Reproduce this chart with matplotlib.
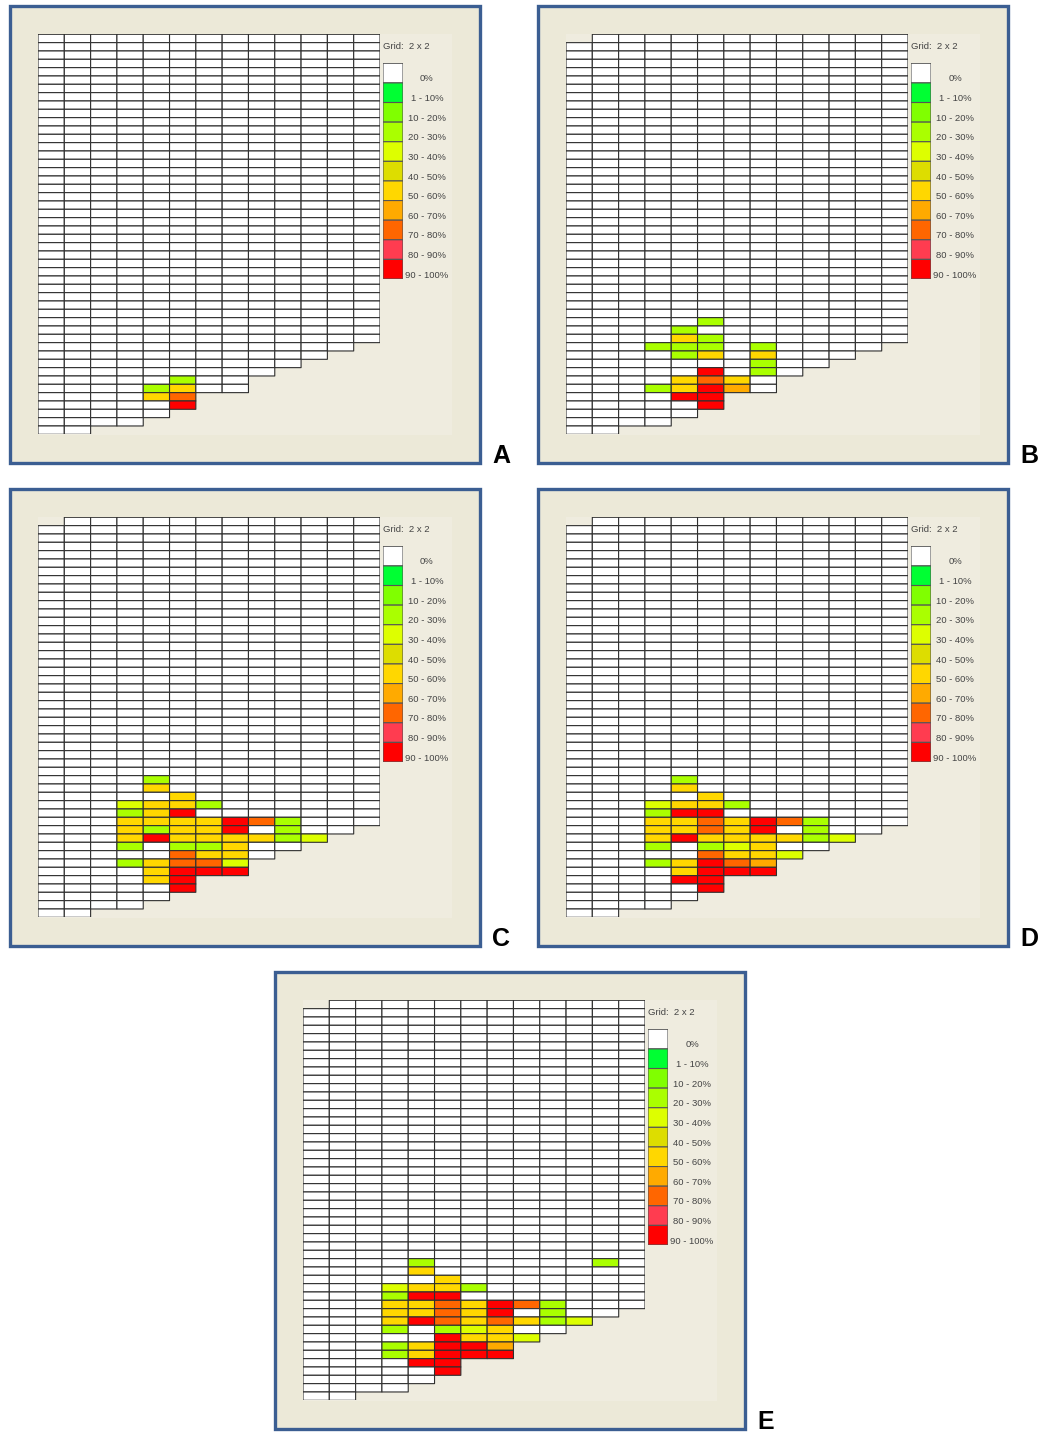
import numpy as np
import matplotlib
matplotlib.use('Agg')
import matplotlib.pyplot as plt
from matplotlib.colors import ListedColormap, BoundaryNorm
from matplotlib.patches import Rectangle

plt.rcParams['font.family'] = ['Liberation Sans', 'DejaVu Sans']

# 图例分档和颜色
bin_labels = ['0%', '1 - 10%', '10 - 20%', '20 - 30%', '30 - 40%', '40 - 50%',
              '50 - 60%', '60 - 70%', '70 - 80%', '80 - 90%', '90 - 100%']
bin_colors = ['#ffffff', '#00ff33', '#80ff00', '#aaff00', '#ddff00', '#dddd00',
              '#ffd700', '#ffaa00', '#ff6600', '#ff3c50', '#ff0000']

# 网格形状: 13 列, 每列最后一行 (从上往下数)
n_rows = 48
n_cols = 13
col_last_row = [47, 47, 46, 46, 45, 44, 42, 42, 40, 39, 38, 37, 36]
# 第 0 列的起始行
first_row_col0 = {'A': 0, 'B': 1, 'C': 1, 'D': 1, 'E': 1}

# 有颜色的格子, 从第 31 行开始; '.'=0%, '1'..'9'=档位, 'X'=90-100%
start_row = 31
cells_A = [
    ".............",
    ".............",
    ".............",
    ".............",
    ".............",
    ".............",
    ".............",
    ".............",
    ".............",
    ".............",
    ".....3.......",
    "....36.......",
    "....68.......",
    ".....X.......",
]
cells_B = [
    ".............",
    ".............",
    ".............",
    ".....3.......",
    "....3........",
    "....63.......",
    "...333.3.....",
    "....36.6.....",
    ".......3.....",
    ".....X.3.....",
    "....686......",
    "...36X7......",
    "....XX.......",
    ".....X.......",
]
cells_C = [
    "....3........",
    "....6........",
    ".....6.......",
    "...4663......",
    "...36X.......",
    "...6666X83...",
    "...6366X.3...",
    "...6X666634..",
    "...3.336.....",
    ".....866.....",
    "...36884.....",
    "....6XXX.....",
    "....6X.......",
    ".....X.......",
]
cells_D = [
    "....3........",
    "....6........",
    ".....6.......",
    "...4663......",
    "...3XX.......",
    "...6686X83...",
    "...6686X.3...",
    "...6X666634..",
    "...3.346.....",
    ".....8664....",
    "...36X87.....",
    "....6XXX.....",
    "....XX.......",
    ".....X.......",
]
cells_E = [
    "....3......3.",
    "....6........",
    ".....6.......",
    "...4663......",
    "...3XX.......",
    "...6686X83...",
    "...6686X.3...",
    "...6X868634..",
    "...3.346.....",
    ".....X664....",
    "...36XX7.....",
    "...36XXX.....",
    "....XX.......",
    ".....X.......",
]
panel_cells = {'A': cells_A, 'B': cells_B, 'C': cells_C, 'D': cells_D, 'E': cells_E}

# 每个面板左上角位置 (像素)
panel_pos = {'A': (8, 4), 'B': (536, 4), 'C': (8, 487), 'D': (536, 487), 'E': (273, 970)}

W, H = 1044, 1433
fig = plt.figure(figsize=(W / 100, H / 100), dpi=100)
fig.patch.set_facecolor('white')

cmap = ListedColormap(bin_colors)
norm = BoundaryNorm(np.arange(len(bin_colors) + 1) - 0.5, cmap.N)


def px_axes(left, top, width, height):
    return fig.add_axes([left / W, 1 - (top + height) / H, width / W, height / H])


def draw_panel(name):
    x0, y0 = panel_pos[name]

    # 外框和背景
    bg = px_axes(x0 + 1.5, y0 + 1.5, 470, 457)
    bg.axis('off')
    bg.add_patch(Rectangle((0, 0), 1, 1, transform=bg.transAxes, facecolor='#ece9d8',
                           edgecolor='#3b5e92', linewidth=2.4, clip_on=False))
    inner = px_axes(x0 + 30, y0 + 30, 414, 401)
    inner.axis('off')
    inner.add_patch(Rectangle((0, 0), 1, 1, transform=inner.transAxes,
                              facecolor='#efecdf', edgecolor='none'))

    # 网格数据
    vals = np.zeros((n_rows, n_cols))
    mask = np.ones((n_rows, n_cols), dtype=bool)
    for c in range(n_cols):
        first = first_row_col0[name] if c == 0 else 0
        mask[first:col_last_row[c] + 1, c] = False
    for i, line in enumerate(panel_cells[name]):
        for c, ch in enumerate(line):
            if ch != '.':
                vals[start_row + i, c] = 10 if ch == 'X' else int(ch)
    data = np.ma.array(vals, mask=mask)

    ax = px_axes(x0 + 30, y0 + 30.3, 342, 400)
    ax.pcolor(np.arange(n_cols + 1), np.arange(n_rows + 1), data, cmap=cmap, norm=norm,
              edgecolors='#2f2f2f', linewidth=0.8)
    ax.set_xlim(0, n_cols)
    ax.set_ylim(n_rows, 0)
    ax.axis('off')

    # 图例
    lg = px_axes(x0 + 375, y0 + 59.3, 20, 215.7)
    n_bins = len(bin_labels)
    lg.pcolor(np.array([0, 1]), np.arange(n_bins + 1), np.arange(n_bins).reshape(-1, 1),
              cmap=cmap, norm=norm, edgecolors='#555555', linewidth=0.8)
    lg.set_xlim(0, 1)
    lg.set_ylim(n_bins, 0)
    lg.axis('off')
    for i, lab in enumerate(bin_labels):
        lg.text(2.2, i + 0.8, lab, ha='center', va='center', fontsize=6.8, color='#444444')
    lg.text(0, -0.85, 'Grid:  2 x 2', ha='left', va='center', fontsize=6.8, color='#444444')

    # 面板字母
    fig.text((x0 + 493) / W, 1 - (y0 + 452) / H, name, ha='center', va='center',
             fontsize=18, fontweight='bold', color='black')


for name in ['A', 'B', 'C', 'D', 'E']:
    draw_panel(name)

fig.savefig('out.png', dpi=100, facecolor='white')
